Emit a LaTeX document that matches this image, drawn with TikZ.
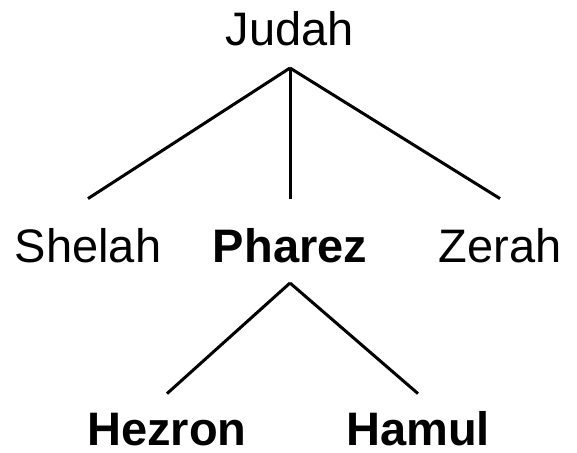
\documentclass[tikz,border=0pt]{standalone}
\usepackage{fontspec}
\setmainfont{Liberation Sans}
\begin{document}
\begin{tikzpicture}[x=1pt,y=-1pt,
  lbl/.style={inner xsep=0pt,inner ysep=0pt,text height=34pt,text depth=0pt,font=\fontsize{47}{50}\selectfont},
  edge/.style={line width=3pt}]
\useasboundingbox (0,0) rectangle (577,452);
\node[lbl,anchor=south] (judah) at (290,46) {Judah};
\node[lbl,anchor=south] (shelah) at (88,263) {Shelah};
\node[lbl,anchor=south] (pharez) at (290,263) {\bfseries Pharez};
\node[lbl,anchor=south] (zerah) at (500,263) {Zerah};
\node[lbl,anchor=south] (hezron) at (167,446) {\bfseries Hezron};
\node[lbl,anchor=south] (hamul) at (418,446) {\bfseries Hamul};
\coordinate (jb) at ([yshift=-22pt]judah.south);
\draw[edge] (jb) -- ([yshift=30pt]shelah.north);
\draw[edge] (jb) -- ([yshift=30pt]pharez.north);
\draw[edge] (jb) -- ([yshift=30pt]zerah.north);
\coordinate (pb) at ([yshift=-20pt]pharez.south);
\draw[edge] (pb) -- ([yshift=18pt]hezron.north);
\draw[edge] (pb) -- ([yshift=18pt]hamul.north);
\end{tikzpicture}
\end{document}
